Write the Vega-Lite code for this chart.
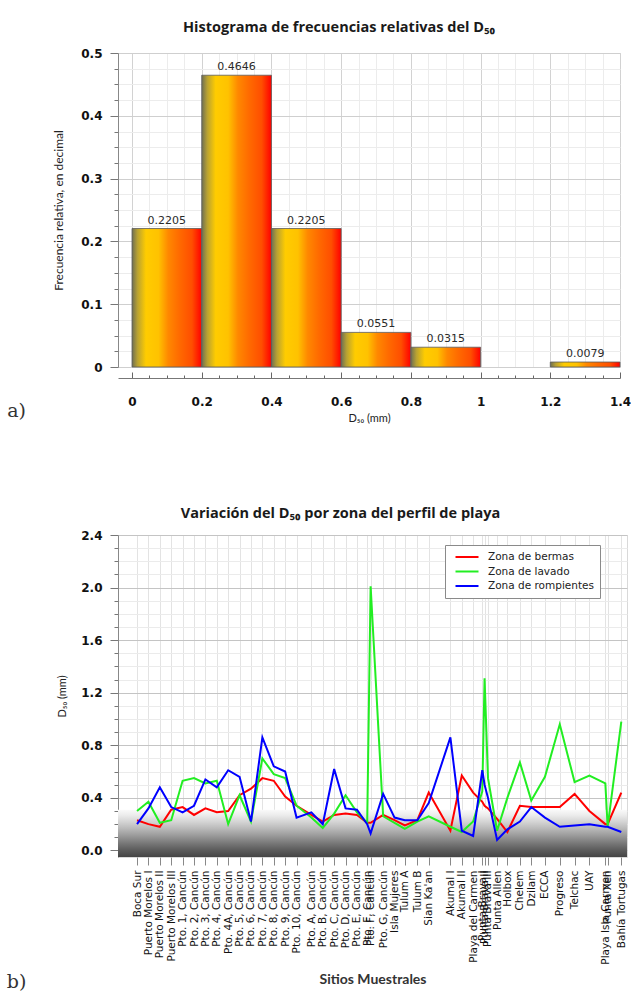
{
  "$schema": "https://vega.github.io/schema/vega-lite/v6.json",
  "padding": {"left": 6, "top": 19, "right": 0, "bottom": 0},
  "background": "#ffffff",
  "spacing": 81,
  "resolve": {"legend": {"color": "independent"}},
  "config": {"font": "DejaVu Sans", "view": {"stroke": "#d9d9d9"}},
  "vconcat": [
    {
      "width": 502,
      "height": 314,
      "title": {"text": "Histograma de frecuencias relativas del D₅₀", "font": "Open Sans", "fontSize": 14.5, "fontWeight": "bold", "color": "#1a1a1a", "anchor": "middle", "frame": "group", "dx": -30, "offset": 12},
      "data": {"values": [
        {"inicio": 0, "fin": 0.2, "centro": 0.1, "frecuencia": 0.2205},
        {"inicio": 0.2, "fin": 0.4, "centro": 0.3, "frecuencia": 0.4646},
        {"inicio": 0.4, "fin": 0.6, "centro": 0.5, "frecuencia": 0.2205},
        {"inicio": 0.6, "fin": 0.8, "centro": 0.7, "frecuencia": 0.0551},
        {"inicio": 0.8, "fin": 1.0, "centro": 0.9, "frecuencia": 0.0315},
        {"inicio": 1.2, "fin": 1.4, "centro": 1.3, "frecuencia": 0.0079}
      ]},
      "layer": [
        {
          "layer": [
            {
              "mark": {"type": "rect", "stroke": "#5a5a5a", "strokeWidth": 0.8,
                "fill": {"gradient": "linear", "x1": 0, "x2": 1, "y1": 0, "y2": 0, "stops": [
                  {"offset": 0, "color": "#6f6f52"},
                  {"offset": 0.08, "color": "#b9a232"},
                  {"offset": 0.2, "color": "#ffcc00"},
                  {"offset": 0.38, "color": "#ffc200"},
                  {"offset": 0.52, "color": "#ff8800"},
                  {"offset": 0.68, "color": "#ff6a00"},
                  {"offset": 0.86, "color": "#ff4e00"},
                  {"offset": 1, "color": "#ff0000"}
                ]}},
              "encoding": {
                "x": {"field": "inicio", "type": "quantitative", "scale": {"domain": [-0.0402, 1.4], "nice": false, "zero": false},
                  "axis": {"orient": "bottom", "offset": 11, "values": [0.05, 0.1, 0.15, 0.25, 0.3, 0.35, 0.45, 0.5, 0.55, 0.65, 0.7, 0.75, 0.85, 0.9, 0.95, 1.05, 1.1, 1.15, 1.25, 1.3, 1.35], "tickCount": 100,
                    "labels": false, "domain": false, "tickSize": -3, "tickColor": "#666", "grid": true, "gridColor": "#ececec", "title": null}},
                "x2": {"field": "fin"},
                "y": {"field": "frecuencia", "type": "quantitative", "scale": {"domain": [0, 0.5], "nice": false},
                  "axis": {"orient": "left", "values": [0.025, 0.05, 0.075, 0.125, 0.15, 0.175, 0.225, 0.25, 0.275, 0.325, 0.35, 0.375, 0.425, 0.45, 0.475], "tickCount": 100,
                    "labels": false, "domain": false, "tickSize": 4, "tickColor": "#777", "grid": true, "gridColor": "#ececec", "title": null}},
                "y2": {"datum": 0}
              }
            },
            {
              "data": {"values": [{}]},
              "mark": {"type": "text", "text": "a)", "font": "DejaVu Serif", "fontSize": 19, "color": "#333333", "align": "center", "baseline": "middle"},
              "encoding": {"x": {"datum": -0.3313, "type": "quantitative"}, "y": {"datum": -0.07, "type": "quantitative"}}
            }
          ]
        },
        {
          "mark": {"type": "text", "dy": -3, "baseline": "bottom", "font": "DejaVu Sans", "fontSize": 11, "color": "#2a2a2a"},
          "encoding": {
            "x": {"field": "centro", "type": "quantitative",
              "axis": {"orient": "bottom", "offset": 11, "values": [0, 0.2, 0.4, 0.6, 0.8, 1, 1.2, 1.4], "format": "~g",
                "labelFont": "DejaVu Sans", "labelFontWeight": "bold", "labelFontSize": 12, "labelColor": "#111", "labelPadding": 24, "labelFlush": false,
                "tickSize": -6, "tickColor": "#666", "domainColor": "#777", "grid": true, "gridColor": "#d2d2d2",
                "title": "D₅₀ (mm)", "titleFont": "Lato", "titleFontSize": 11, "titleFontWeight": "normal", "titleColor": "#222", "titlePadding": 5}},
            "y": {"field": "frecuencia", "type": "quantitative",
              "axis": {"orient": "left", "values": [0, 0.1, 0.2, 0.3, 0.4, 0.5], "format": "~g",
                "labelFont": "DejaVu Sans", "labelFontWeight": "bold", "labelFontSize": 12, "labelColor": "#111", "labelPadding": 8,
                "tickSize": 8, "tickColor": "#777", "domainColor": "#888", "grid": true, "gridColor": "#cfcfcf",
                "title": "Frecuencia relativa, en decimal", "titleFont": "Lato", "titleFontSize": 12, "titleFontWeight": "normal", "titleColor": "#222", "titlePadding": 15}},
            "text": {"field": "frecuencia", "type": "quantitative", "format": ".4f"}
          }
        }
      ],
      "resolve": {"axis": {"x": "independent", "y": "independent"}}
    },
    {
      "width": 509,
      "height": 322,
      "title": {"text": "Variación del D₅₀ por zona del perfil de playa", "font": "Open Sans", "fontSize": 14.5, "fontWeight": "bold", "color": "#1a1a1a", "anchor": "middle", "frame": "group", "dx": -32, "offset": 8},
      "layer": [
        {
          "layer": [
            {
              "data": {"values": [{}]},
              "mark": {"type": "rect",
                "fill": {"gradient": "linear", "x1": 0, "x2": 0, "y1": 0, "y2": 1, "stops": [
                  {"offset": 0, "color": "#fafafa"},
                  {"offset": 0.12, "color": "#ebebeb"},
                  {"offset": 0.25, "color": "#d5d5d5"},
                  {"offset": 0.4, "color": "#b9b9b9"},
                  {"offset": 0.55, "color": "#9a9a9a"},
                  {"offset": 0.7, "color": "#7a7a7a"},
                  {"offset": 0.85, "color": "#5c5c5c"},
                  {"offset": 1, "color": "#444444"}
                ]}},
              "encoding": {
                "x": {"datum": -0.67, "type": "quantitative", "scale": {"domain": [-0.67, 44], "nice": false, "zero": false}},
                "x2": {"datum": 44},
                "y": {"datum": -0.05, "type": "quantitative", "scale": {"domain": [-0.05, 2.4], "nice": false, "zero": false},
                  "axis": {"orient": "left", "values": [0.1, 0.2, 0.3, 0.5, 0.6, 0.7, 0.9, 1.0, 1.1, 1.3, 1.4, 1.5, 1.7, 1.8, 1.9, 2.1, 2.2, 2.3], "tickCount": 100,
                    "labels": false, "domain": false, "tickSize": 4, "tickColor": "#777", "grid": true, "gridColor": "#ebebeb", "title": null}},
                "y2": {"datum": 0.31}
              }
            },
            {
              "data": {"values": [{}]},
              "mark": {"type": "text", "text": "b)", "font": "DejaVu Serif", "fontSize": 19, "color": "#333333", "align": "center", "baseline": "middle"},
              "encoding": {"x": {"datum": -9.57, "type": "quantitative"}, "y": {"datum": -1.0, "type": "quantitative"}}
            }
          ]
        },
        {
          "data": {"values": [
            {"sitio": "Boca Sur", "pos": 1, "Zona de bermas": 0.23, "Zona de lavado": 0.30, "Zona de rompientes": 0.20},
            {"sitio": "Puerto Morelos I", "pos": 2, "Zona de bermas": 0.20, "Zona de lavado": 0.37, "Zona de rompientes": 0.32},
            {"sitio": "Puerto Morelos II", "pos": 3, "Zona de bermas": 0.18, "Zona de lavado": 0.21, "Zona de rompientes": 0.48},
            {"sitio": "Puerto Morelos III", "pos": 4, "Zona de bermas": 0.31, "Zona de lavado": 0.23, "Zona de rompientes": 0.33},
            {"sitio": "Pto. 1, Cancún", "pos": 5, "Zona de bermas": 0.33, "Zona de lavado": 0.53, "Zona de rompientes": 0.29},
            {"sitio": "Pto. 2, Cancún", "pos": 6, "Zona de bermas": 0.27, "Zona de lavado": 0.55, "Zona de rompientes": 0.34},
            {"sitio": "Pto. 3, Cancún", "pos": 7, "Zona de bermas": 0.32, "Zona de lavado": 0.51, "Zona de rompientes": 0.54},
            {"sitio": "Pto. 4, Cancún", "pos": 8, "Zona de bermas": 0.29, "Zona de lavado": 0.53, "Zona de rompientes": 0.48},
            {"sitio": "Pto. 4A, Cancún", "pos": 9, "Zona de bermas": 0.30, "Zona de lavado": 0.20, "Zona de rompientes": 0.61},
            {"sitio": "Pto. 5, Cancún", "pos": 10, "Zona de bermas": 0.42, "Zona de lavado": 0.42, "Zona de rompientes": 0.56},
            {"sitio": "Pto. 6, Cancún", "pos": 11, "Zona de bermas": 0.47, "Zona de lavado": 0.22, "Zona de rompientes": 0.22},
            {"sitio": "Pto. 7, Cancún", "pos": 12, "Zona de bermas": 0.55, "Zona de lavado": 0.70, "Zona de rompientes": 0.86},
            {"sitio": "Pto. 8, Cancún", "pos": 13, "Zona de bermas": 0.53, "Zona de lavado": 0.58, "Zona de rompientes": 0.64},
            {"sitio": "Pto. 9, Cancún", "pos": 14, "Zona de bermas": 0.41, "Zona de lavado": 0.55, "Zona de rompientes": 0.60},
            {"sitio": "Pto. 10, Cancún", "pos": 15, "Zona de bermas": 0.34, "Zona de lavado": 0.34, "Zona de rompientes": 0.25},
            {"sitio": "Pto. A, Cancún", "pos": 16.3, "Zona de bermas": 0.27, "Zona de lavado": 0.25, "Zona de rompientes": 0.29},
            {"sitio": "Pto. B, Cancún", "pos": 17.3, "Zona de bermas": 0.22, "Zona de lavado": 0.17, "Zona de rompientes": 0.20},
            {"sitio": "Pto. C, Cancún", "pos": 18.3, "Zona de bermas": 0.27, "Zona de lavado": 0.28, "Zona de rompientes": 0.62},
            {"sitio": "Pto. D, Cancún", "pos": 19.3, "Zona de bermas": 0.28, "Zona de lavado": 0.42, "Zona de rompientes": 0.32},
            {"sitio": "Pto. E, Cancún", "pos": 20.3, "Zona de bermas": 0.27, "Zona de lavado": 0.29, "Zona de rompientes": 0.31},
            {"sitio": "Pto. F, Cancún", "pos": 21.2, "Zona de bermas": 0.21, "Zona de lavado": 0.21, "Zona de rompientes": 0.20},
            {"sitio": "Pto. F, Cancún", "pos": 21.5, "Zona de bermas": 0.21, "Zona de lavado": 2.01, "Zona de rompientes": 0.13},
            {"sitio": "Pto. G, Cancún", "pos": 22.6, "Zona de bermas": 0.27, "Zona de lavado": 0.26, "Zona de rompientes": 0.43},
            {"sitio": "Isla Mujeres", "pos": 23.6, "Zona de bermas": 0.23, "Zona de lavado": 0.21, "Zona de rompientes": 0.25},
            {"sitio": "Tulum A", "pos": 24.5, "Zona de bermas": 0.19, "Zona de lavado": 0.165, "Zona de rompientes": 0.23},
            {"sitio": "Tulum B", "pos": 25.6, "Zona de bermas": 0.23, "Zona de lavado": 0.22, "Zona de rompientes": 0.23},
            {"sitio": "Sian Ka'an", "pos": 26.6, "Zona de bermas": 0.44, "Zona de lavado": 0.26, "Zona de rompientes": 0.36},
            {"sitio": "Akumal I", "pos": 28.5, "Zona de bermas": 0.15, "Zona de lavado": 0.18, "Zona de rompientes": 0.86},
            {"sitio": "Akumal II", "pos": 29.5, "Zona de bermas": 0.57, "Zona de lavado": 0.14, "Zona de rompientes": 0.15},
            {"sitio": "Playa del Carmen", "pos": 30.5, "Zona de bermas": 0.44, "Zona de lavado": 0.22, "Zona de rompientes": 0.11},
            {"sitio": "Punta Brava I", "pos": 31.3, "Zona de bermas": 0.37, "Zona de lavado": 0.45, "Zona de rompientes": 0.61},
            {"sitio": "Punta Brava II", "pos": 31.5, "Zona de bermas": 0.34, "Zona de lavado": 1.31, "Zona de rompientes": 0.50},
            {"sitio": "Punta Brava III", "pos": 31.8, "Zona de bermas": 0.32, "Zona de lavado": 0.55, "Zona de rompientes": 0.40},
            {"sitio": "Punta Allen", "pos": 32.6, "Zona de bermas": 0.24, "Zona de lavado": 0.15, "Zona de rompientes": 0.08},
            {"sitio": "Holbox", "pos": 33.5, "Zona de bermas": 0.14, "Zona de lavado": 0.40, "Zona de rompientes": 0.16},
            {"sitio": "Chelem", "pos": 34.6, "Zona de bermas": 0.34, "Zona de lavado": 0.67, "Zona de rompientes": 0.22},
            {"sitio": "Dzilam", "pos": 35.6, "Zona de bermas": 0.33, "Zona de lavado": 0.38, "Zona de rompientes": 0.33},
            {"sitio": "ECCA", "pos": 36.8, "Zona de bermas": 0.33, "Zona de lavado": 0.56, "Zona de rompientes": 0.25},
            {"sitio": "Progreso", "pos": 38.1, "Zona de bermas": 0.33, "Zona de lavado": 0.96, "Zona de rompientes": 0.18},
            {"sitio": "Telchac", "pos": 39.4, "Zona de bermas": 0.43, "Zona de lavado": 0.52, "Zona de rompientes": 0.19},
            {"sitio": "UAY", "pos": 40.7, "Zona de bermas": 0.30, "Zona de lavado": 0.57, "Zona de rompientes": 0.20},
            {"sitio": "Playa Isla Carmen", "pos": 42.1, "Zona de bermas": 0.20, "Zona de lavado": 0.51, "Zona de rompientes": 0.18},
            {"sitio": "Punta Xen", "pos": 42.3, "Zona de bermas": 0.20, "Zona de lavado": 0.18, "Zona de rompientes": 0.18},
            {"sitio": "Bahía Tortugas", "pos": 43.5, "Zona de bermas": 0.44, "Zona de lavado": 0.98, "Zona de rompientes": 0.14}
          ]},
          "transform": [{"fold": ["Zona de bermas", "Zona de lavado", "Zona de rompientes"], "as": ["zona", "d50"]}],
          "mark": {"type": "line", "strokeWidth": 2},
          "encoding": {
            "x": {"field": "pos", "type": "quantitative",
              "axis": {"values": [1, 2, 3, 4, 5, 6, 7, 8, 9, 10, 11, 12, 13, 14, 15, 16.3, 17.3, 18.3, 19.3, 20.3, 21.2, 21.5, 22.6, 23.6, 24.5, 25.6, 26.6, 28.5, 29.5, 30.5, 31.3, 31.5, 31.8, 32.6, 33.5, 34.6, 35.6, 36.8, 38.1, 39.4, 40.7, 42.1, 42.3, 43.5], "tickCount": 200,
                "labelExpr": "['Boca Sur','Puerto Morelos I','Puerto Morelos II','Puerto Morelos III','Pto. 1, Cancún','Pto. 2, Cancún','Pto. 3, Cancún','Pto. 4, Cancún','Pto. 4A, Cancún','Pto. 5, Cancún','Pto. 6, Cancún','Pto. 7, Cancún','Pto. 8, Cancún','Pto. 9, Cancún','Pto. 10, Cancún','Pto. A, Cancún','Pto. B, Cancún','Pto. C, Cancún','Pto. D, Cancún','Pto. E, Cancún','Pto. F, Cancún','Pto. F, Cancún','Pto. G, Cancún','Isla Mujeres','Tulum A','Tulum B',\"Sian Ka'an\",'Akumal I','Akumal II','Playa del Carmen','Punta Brava I','Punta Brava II','Punta Brava III','Punta Allen','Holbox','Chelem','Dzilam','ECCA','Progreso','Telchac','UAY','Playa Isla Carmen','Punta Xen','Bahía Tortugas'][indexof([1,2,3,4,5,6,7,8,9,10,11,12,13,14,15,16.3,17.3,18.3,19.3,20.3,21.2,21.5,22.6,23.6,24.5,25.6,26.6,28.5,29.5,30.5,31.3,31.5,31.8,32.6,33.5,34.6,35.6,36.8,38.1,39.4,40.7,42.1,42.3,43.5], datum.value)]",
                "labelAngle": 270, "labelFont": "DejaVu Sans", "labelFontSize": 10.5, "labelColor": "#111", "labelPadding": 5,
                "labelOverlap": false, "labelFlush": false, "labelBound": false,
                "tickSize": 8, "tickColor": "#888", "domain": false, "grid": true, "gridColor": "#e3e3e3",
                "title": "Sitios Muestrales", "titleFont": "Lato", "titleFontSize": 14, "titleFontWeight": "bold", "titleColor": "#333", "titleBaseline": "middle", "titleY": 122}},
            "y": {"field": "d50", "type": "quantitative",
              "axis": {"orient": "left", "values": [0, 0.4, 0.8, 1.2, 1.6, 2.0, 2.4], "format": ".1f",
                "labelFont": "DejaVu Sans", "labelFontWeight": "bold", "labelFontSize": 12, "labelColor": "#111", "labelPadding": 8,
                "tickSize": 8, "tickColor": "#777", "domainColor": "#888", "grid": true, "gridColor": "#c4c4c4",
                "title": "D₅₀ (mm)", "titleFont": "Lato", "titleFontSize": 11, "titleFontWeight": "normal", "titleColor": "#222", "titlePadding": 13}},
            "color": {"field": "zona", "type": "nominal",
              "scale": {"domain": ["Zona de bermas", "Zona de lavado", "Zona de rompientes"], "range": ["#ff0000", "#22ee22", "#0000ff"]},
              "legend": {"orient": "none", "legendX": 327, "legendY": 10, "title": null, "symbolType": "M-2.3,0L2.3,0", "symbolStrokeWidth": 2, "symbolSize": 100, "symbolOffset": 10,
                "labelFont": "DejaVu Sans", "labelFontSize": 10.5, "labelColor": "#222", "strokeColor": "#8a8a8a", "fillColor": "#ffffff",
                "padding": 6, "rowPadding": 2.5, "labelOffset": 15}}
          }
        }
      ],
      "resolve": {"axis": {"y": "independent"}}
    }
  ]
}
